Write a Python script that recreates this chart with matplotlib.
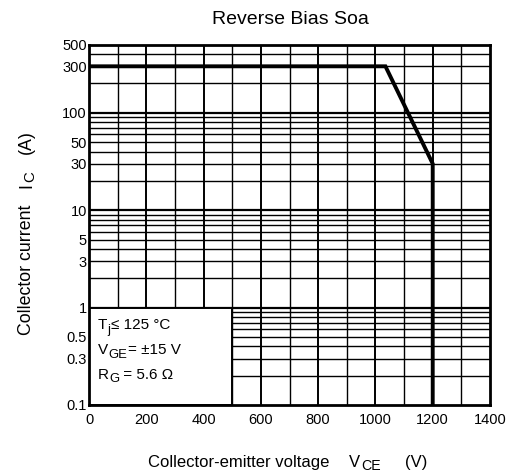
import matplotlib
matplotlib.use('Agg')
import matplotlib.pyplot as plt
import matplotlib.ticker as mticker
from matplotlib.patches import Rectangle

plt.rcParams['font.family'] = ['Liberation Sans', 'DejaVu Sans']

# safe operating area boundary
vce = [0, 1035, 1200, 1200]
ic = [300, 300, 30, 0.1]

x_ticks = [0, 200, 400, 600, 800, 1000, 1200, 1400]
y_ticks = [0.1, 0.3, 0.5, 1, 3, 5, 10, 30, 50, 100, 300, 500]
y_labels = ['0.1', '0.3', '0.5', '1', '3', '5', '10', '30', '50', '100', '300', '500']

W, H = 515, 476
fig = plt.figure(figsize=(W / 100, H / 100), dpi=100)
ax = fig.add_axes([89 / W, 1 - 405 / H, 401 / W, 360.3 / H])
renderer = fig.canvas.get_renderer()


def rich_text(x, y, parts, size, rot=0):
    """Write text pieces one after another from a baseline start (x, y),
    given in pixels from the top left. Each part is (text, scale, drop, gap)."""
    pos = 0
    for s, scale, drop, gap in parts:
        pos += gap
        if rot == 0:
            px, py = x + pos, y + drop
        else:
            px, py = x + drop, y - pos
        t = fig.text(px / W, 1 - py / H, s, fontsize=size * scale, rotation=rot,
                     rotation_mode='anchor', ha='left', va='baseline')
        ext = t.get_window_extent(renderer)
        pos += ext.width if rot == 0 else ext.height


ax.set_yscale('log')
ax.set_xlim(0, 1400)
ax.set_ylim(0.1, 500)

ax.set_xticks(x_ticks)
ax.xaxis.set_minor_locator(mticker.MultipleLocator(100))
ax.yaxis.set_major_locator(mticker.FixedLocator(y_ticks))
ax.yaxis.set_major_formatter(mticker.FixedFormatter(y_labels))
ax.yaxis.set_minor_locator(mticker.NullLocator())
ax.tick_params(which='both', length=0, labelsize=10.5)
ax.tick_params(axis='x', pad=6)
ax.tick_params(axis='y', pad=1.5)

# grid: every 100 V, every log minor step
for x in range(100, 1400, 100):
    ax.axvline(x, color='black', lw=1.4 if x % 200 == 0 else 1.0, zorder=0.5)
for d in [0.1, 1, 10, 100]:
    for m in range(1, 10):
        y = d * m
        if 0.1 < y < 500:
            ax.axhline(y, color='black', lw=1.6 if m == 1 else 1.0, zorder=0.5)

# condition box in the lower left corner
ax.add_patch(Rectangle((0, 0.1), 500, 0.9, facecolor='white', edgecolor='black',
                       lw=1.4, zorder=1.5))

ax.plot(vce, ic, color='black', lw=2.8, zorder=3, solid_joinstyle='miter')

for sp in ax.spines.values():
    sp.set_linewidth(2)
    sp.set_zorder(4)

fig.text(290 / W, 1 - 24 / H, 'Reverse Bias Soa', fontsize=14,
         ha='center', va='baseline')

rich_text(148, 467, [('Collector-emitter voltage', 1, 0, 0), ('V', 1, 0, 20),
                     ('CE', 0.85, 3.5, 0.5), ('(V)', 1, 0, 24)], 12)
rich_text(31, 335, [('Collector current', 1, 0, 0), ('I', 1, 0, 17),
                    ('C', 0.85, 3.5, 0.5), ('(A)', 1, 0, 18)], 12.75, rot=90)

rich_text(98, 329, [('T', 1, 0, 0), ('j', 0.85, 3.5, 0), ('≤ 125 °C', 1, 0, 1)], 11)
rich_text(98, 354, [('V', 1, 0, 0), ('GE', 0.85, 3.5, 0), ('= ±15 V', 1, 0, 1)], 11)
rich_text(98, 379, [('R', 1, 0, 0), ('G', 0.85, 3.5, 0), (' = 5.6 Ω', 1, 0, 0)], 11)

fig.savefig('out.png', dpi=100)
